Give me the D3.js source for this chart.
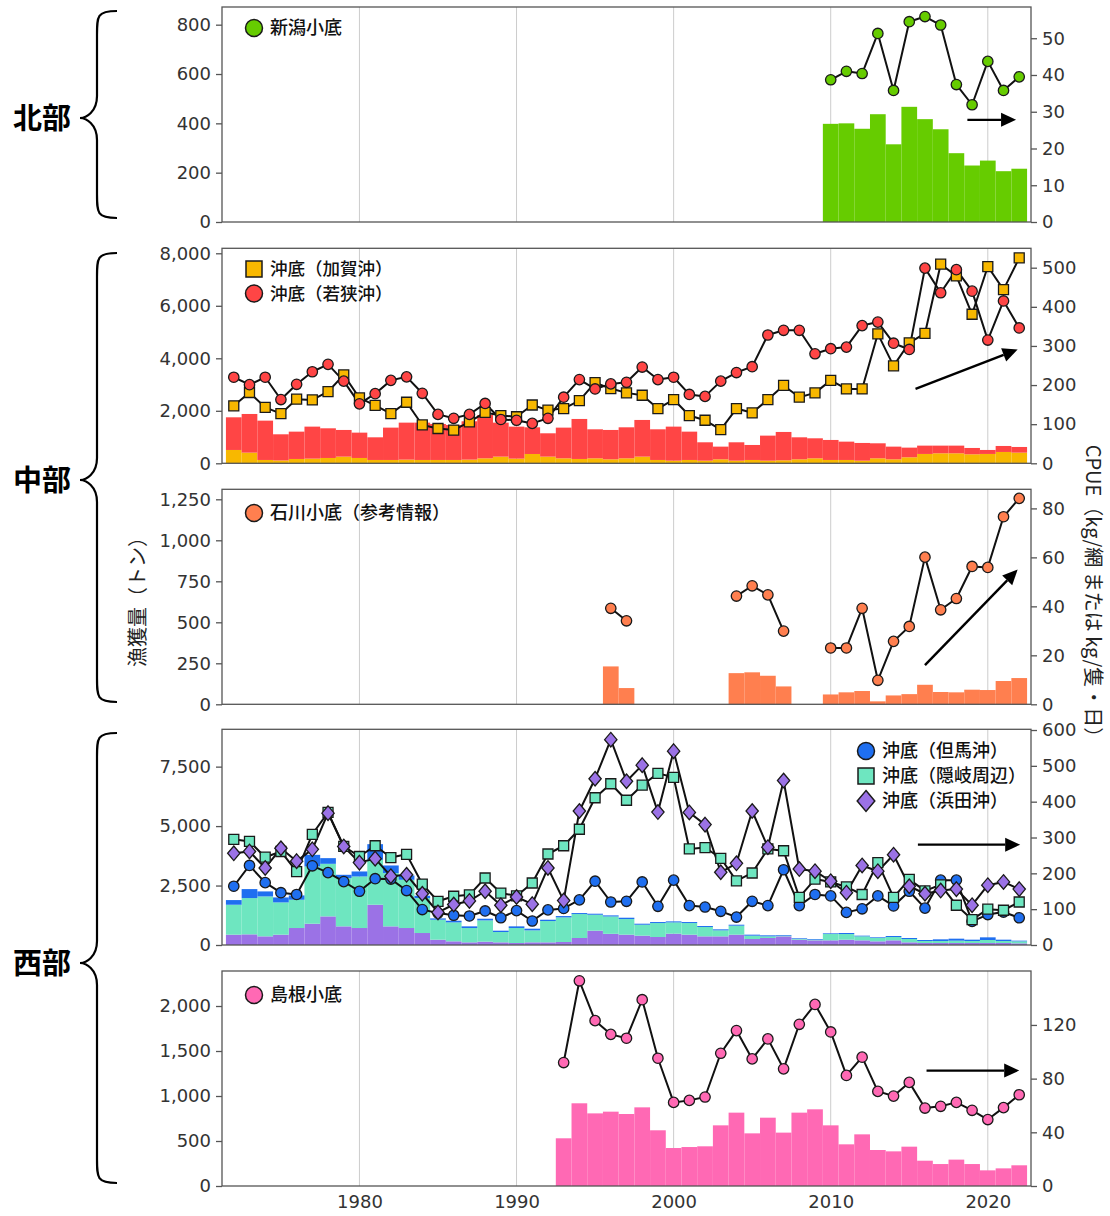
<!DOCTYPE html>
<html lang="ja">
<head>
<meta charset="utf-8">
<script src="https://cdn.jsdelivr.net/npm/d3@7"></script>
<style>
  html, body { margin: 0; padding: 0; background: #fff; }
  svg { display: block; }
</style>
</head>
<body>
<svg id="chart" width="1110" height="1216"></svg>
<script>
// ---- data -------------------------------------------------------------
const yearsAll = [1972,1973,1974,1975,1976,1977,1978,1979,1980,1981,
  1982,1983,1984,1985,1986,1987,1988,1989,1990,1991,
  1992,1993,1994,1995,1996,1997,1998,1999,2000,2001,
  2002,2003,2004,2005,2006,2007,2008,2009,2010,2011,
  2012,2013,2014,2015,2016,2017,2018,2019,2020,2021,2022];
const gridYears = [1980, 1990, 2000, 2010, 2020];

// 北部: 新潟小底
const niigataYears = [2010,2011,2012,2013,2014,2015,2016,2017,2018,2019,2020,2021,2022];
const niigataCatch = [398,400,378,437,315,467,417,376,279,229,249,206,216];
const niigataCpue  = [38.7,41.0,40.4,51.3,35.8,54.5,55.9,53.6,37.4,31.9,43.7,35.8,39.5];

// 中部: 沖底(加賀沖)・沖底(若狭沖), 1972-2022
const kagaCatch = [508,406,127,110,165,178,203,254,203,127,
  127,140,127,127,127,140,190,254,178,355,
  254,190,165,190,152,190,254,127,100,127,
  100,152,100,127,100,115,152,190,127,127,
  100,190,152,229,356,381,381,343,356,432,406];
const wakasaCatch = [1244,1473,1498,995,1041,1219,1130,1016,965,863,
  1232,1409,1422,1371,1333,1460,1651,1295,1219,1016,
  889,1169,1524,1105,1118,1181,1397,1168,1297,1079,
  700,483,700,571,954,1079,838,762,762,698,
  675,572,483,368,317,292,292,241,152,228,216];
const kagaCpue = [147,181,143,127,164,162,183,226,167,148,
  127,156,98,89,85,106,130,122,119,149,
  136,140,160,206,191,180,174,140,163,122,
  110,86,140,129,163,199,169,180,212,190,
  190,331,249,308,332,509,479,381,503,444,525];
const wakasaCpue = [220,201,220,163,202,234,253,210,152,178,
  212,221,179,125,115,125,153,112,110,102,
  115,169,214,190,203,207,246,214,220,176,
  171,210,232,247,328,340,340,280,293,297,
  352,361,307,291,499,436,495,440,315,415,346];

// 中部: 石川小底 (参考情報)
const ishikawaYears = [1996,1997,2004,2005,2006,2007,2010,2011,2012,2013,2014,2015,2016,2017,2018,2019,2020,2021,2022];
const ishikawaCatch = [231,99,190,195,174,109,60,73,81,18,54,62,119,75,73,89,87,142,160];
const ishikawaCpue  = [39.2,34.1,44.2,48.4,44.7,29.9,23.0,23.0,39.2,9.8,25.7,31.8,60.1,38.6,43.2,56.3,55.9,76.6,84.1];

// 西部: 沖底(但馬沖)・沖底(隠岐周辺)・沖底(浜田沖), 1972-2022
const hamadaCatch = [434,448,364,434,714,895,1203,784,714,1693,
  784,714,504,224,154,112,140,112,84,112,
  112,126,294,602,470,434,392,336,476,434,
  364,364,434,252,294,364,224,196,196,224,
  196,154,196,112,84,84,84,84,84,84,70];
const okiCatch = [1259,1525,1679,1357,1189,2407,2211,2028,2168,1889,
  2238,2028,1469,839,797,602,895,434,630,504,
  895,1035,1007,671,730,657,461,587,475,489,
  392,252,378,140,70,28,28,28,266,238,
  168,140,140,140,84,84,98,84,126,84,84];
const tajimaCatch = [196,378,210,210,182,490,238,140,210,658,
  322,182,98,56,70,70,70,56,70,70,
  56,56,42,42,45,56,42,42,42,42,
  42,42,41,42,42,28,28,28,28,42,
  28,28,42,42,42,70,84,56,112,56,28];
const tajimaCpue = [164,222,174,146,141,221,202,177,150,185,
  184,152,99,89,83,81,95,76,96,67,
  98,102,126,178,120,122,176,108,181,110,
  106,94,78,122,110,210,110,141,137,91,
  101,137,109,150,103,181,181,66,85,92,76];
const okiCpue = [295,289,245,261,205,309,370,275,247,277,
  244,253,170,122,136,140,187,145,137,173,
  254,277,323,411,450,404,446,479,468,268,
  272,242,179,201,268,263,133,184,176,162,
  141,230,133,183,151,168,111,71,100,97,120];
const hamadaCpue = [256,261,215,270,234,267,368,275,230,241,
  192,196,143,91,113,123,150,111,134,114,
  215,124,374,464,573,457,502,371,541,370,
  336,203,228,374,273,459,212,206,178,146,
  222,206,252,164,143,152,156,111,167,176,156];

// 西部: 島根小底
const shimaneYears = [1993,1994,1995,1996,1997,1998,1999,2000,2001,2002,
  2003,2004,2005,2006,2007,2008,2009,2010,2011,2012,
  2013,2014,2015,2016,2017,2018,2019,2020,2021,2022];
const shimaneCatch = [530,919,807,826,800,874,619,422,433,441,
  674,815,585,759,593,815,852,674,463,574,
  400,385,437,281,244,293,244,174,196,230];
const shimaneCpue = [92.0,152.9,123.2,113.0,110.1,138.8,95.2,62.3,63.8,66.3,
  98.9,115.8,94.7,109.6,87.3,120.5,135.3,114.8,82.4,96.0,
  70.5,67.0,77.2,58.1,59.4,62.3,56.4,49.5,58.4,68.0];

// trend arrows: [year, CPUE] start and end
const niigataTrend  = [[2018.7, 27.8], [2021.8, 27.8]];
const chubuTrend    = [[2015.4, 190], [2021.9, 291]];
const ishikawaTrend = [[2016.0, 16.0], [2021.9, 55.0]];
const seibuTrend    = [[2015.55, 280], [2022.06, 280]];
const shimaneTrend  = [[2016.1, 86.0], [2022.0, 86.0]];

// ---- style ----------------------------------------------------------------
const FONT_JP = "'Noto Sans CJK JP', 'Noto Sans', sans-serif";
const FONT_NUM = "'DejaVu Sans', 'Noto Sans', sans-serif";
const COL = {
  niigata: '#66cc00',
  kaga: '#f8b800',
  wakasa: '#ff4545',
  ishikawa: '#ff7f4f',
  tajima: '#1f6ff0',
  oki: '#6ee6c0',
  hamada: '#9b72e6',
  shimane: '#ff69b4'
};
const FRAME = '#555';
const TEXT = '#333';

const svg = d3.select('#chart');
svg.append('rect').attr('width', 1110).attr('height', 1216).attr('fill', '#fff');

const x = d3.scaleLinear().domain([1971.25, 2022.75]).range([222, 1031]);
const barLeft = d => x(d - 0.5);
const barWidth = x(1) - x(0);

// marker shapes
function markerPath(type, size) {
  if (type === 'circle') return d3.symbol(d3.symbolCircle, Math.PI * size * size)();
  if (type === 'square') return d3.symbol(d3.symbolSquare, size * size * 4)();
  // diamond, slightly wider than d3's default
  const h = size * 1.3, w = size * 1.1;
  return `M0,${-h}L${w},0L0,${h}L${-w},0Z`;
}

function panel(cfg) {
  const g = svg.append('g');
  const yL = d3.scaleLinear().domain([0, cfg.leftMax]).range([cfg.bottom, cfg.top]);
  const yR = d3.scaleLinear().domain([0, cfg.rightMax]).range([cfg.bottom, cfg.top]);
  const layers = {
    grid: g.append('g'),
    bars: g.append('g'),
    lines: g.append('g'),
    marks: g.append('g'),
    frame: g.append('g'),
    legend: g.append('g')
  };
  layers.grid.selectAll('line').data(gridYears).join('line')
    .attr('x1', d => x(d)).attr('x2', d => x(d))
    .attr('y1', cfg.top).attr('y2', cfg.bottom)
    .attr('stroke', '#cccccc').attr('stroke-width', 1);

  layers.frame.append('rect')
    .attr('x', x.range()[0]).attr('y', cfg.top)
    .attr('width', x.range()[1] - x.range()[0]).attr('height', cfg.bottom - cfg.top)
    .attr('fill', 'none').attr('stroke', FRAME).attr('stroke-width', 1.3);

  const axL = layers.frame.append('g').attr('transform', `translate(${x.range()[0]},0)`)
    .call(d3.axisLeft(yL).tickValues(cfg.leftTicks).tickFormat(d3.format(',')).tickSize(6).tickPadding(5));
  const axR = layers.frame.append('g').attr('transform', `translate(${x.range()[1]},0)`)
    .call(d3.axisRight(yR).tickValues(cfg.rightTicks).tickFormat(d3.format('d')).tickSize(6).tickPadding(5));
  [axL, axR].forEach(a => {
    a.select('.domain').remove();
    a.selectAll('line').attr('stroke', FRAME).attr('stroke-width', 1.3);
    a.selectAll('text').attr('font-family', FONT_NUM).attr('font-size', 18).attr('fill', TEXT);
  });
  return { g, yL, yR, layers, cfg };
}

function drawBars(p, years, values, color) {
  p.layers.bars.append('g').selectAll('rect').data(years.map((y, i) => ({ y, v: values[i] }))).join('rect')
    .attr('x', d => barLeft(d.y)).attr('width', barWidth)
    .attr('y', d => p.yL(d.v)).attr('height', d => p.yL(0) - p.yL(d.v))
    .attr('fill', color);
}

function drawStack(p, years, series) {
  const rows = years.map((y, i) => {
    const r = { year: y };
    series.forEach(s => r[s.key] = s.values[i]);
    return r;
  });
  const stack = d3.stack().keys(series.map(s => s.key))(rows);
  stack.forEach((layer, k) => {
    p.layers.bars.append('g').selectAll('rect').data(layer).join('rect')
      .attr('x', d => barLeft(d.data.year)).attr('width', barWidth)
      .attr('y', d => p.yL(d[1])).attr('height', d => p.yL(d[0]) - p.yL(d[1]))
      .attr('fill', series[k].color);
  });
}

function drawCpue(p, years, values, color, type, size) {
  // break the line wherever a year is missing
  const pts = years.map((y, i) => ({ y, v: values[i] }));
  const segs = [];
  pts.forEach((d, i) => {
    if (i === 0 || d.y - pts[i - 1].y > 1) segs.push([]);
    segs[segs.length - 1].push(d);
  });
  const line = d3.line().x(d => x(d.y)).y(d => p.yR(d.v));
  p.layers.lines.append('g').selectAll('path').data(segs.filter(s => s.length > 1)).join('path')
    .attr('d', line).attr('fill', 'none').attr('stroke', '#111').attr('stroke-width', 2)
    .attr('stroke-linejoin', 'round');
  const sym = markerPath(type, size);
  p.layers.marks.append('g').selectAll('path').data(pts).join('path')
    .attr('d', sym).attr('transform', d => `translate(${x(d.y)},${p.yR(d.v)})`)
    .attr('fill', color).attr('stroke', '#1a1a1a').attr('stroke-width', 1.3);
}

function drawArrow(p, trend) {
  const [a, b] = trend.map(([yr, v]) => [x(yr), p.yR(v)]);
  const ang = Math.atan2(b[1] - a[1], b[0] - a[0]);
  const L = 15, W = 7;
  const base = [b[0] - L * Math.cos(ang), b[1] - L * Math.sin(ang)];
  p.layers.marks.append('line')
    .attr('x1', a[0]).attr('y1', a[1]).attr('x2', base[0]).attr('y2', base[1])
    .attr('stroke', '#000').attr('stroke-width', 2.4);
  const nx = -Math.sin(ang) * W, ny = Math.cos(ang) * W;
  p.layers.marks.append('path')
    .attr('d', `M${b[0]},${b[1]}L${base[0] + nx},${base[1] + ny}L${base[0] - nx},${base[1] - ny}Z`)
    .attr('fill', '#000');
}

// legend: a marker and a label per entry
function legend(p, items, lx, ly, gap, fontSize) {
  items.forEach((it, i) => {
    const cy = ly + i * gap;
    p.layers.legend.append('path').attr('d', markerPath(it.type, it.size))
      .attr('transform', `translate(${lx},${cy})`)
      .attr('fill', it.color).attr('stroke', '#1a1a1a').attr('stroke-width', 1.5);
    p.layers.legend.append('text').attr('x', lx + 16).attr('y', cy)
      .attr('dy', '0.36em').attr('font-family', FONT_JP).attr('font-size', fontSize || 18)
      .attr('font-weight', 500).attr('fill', '#111').text(it.label);
  });
}

// ---- panels ---------------------------------------------------------------
const p1 = panel({ top: 7, bottom: 222, leftMax: 871.7, rightMax: 58.5,
  leftTicks: [0, 200, 400, 600, 800], rightTicks: [0, 10, 20, 30, 40, 50] });
drawBars(p1, niigataYears, niigataCatch, COL.niigata);
drawCpue(p1, niigataYears, niigataCpue, COL.niigata, 'circle', 5.2);
drawArrow(p1, niigataTrend);
legend(p1, [{ type: 'circle', size: 8.5, color: COL.niigata, label: '新潟小底' }], 254, 28, 0);

const p2 = panel({ top: 248.3, bottom: 463.3, leftMax: 8190, rightMax: 549.6,
  leftTicks: [0, 2000, 4000, 6000, 8000], rightTicks: [0, 100, 200, 300, 400, 500] });
drawStack(p2, yearsAll, [
  { key: 'kaga', values: kagaCatch, color: COL.kaga },
  { key: 'wakasa', values: wakasaCatch, color: COL.wakasa }
]);
drawCpue(p2, yearsAll, kagaCpue, COL.kaga, 'square', 5);
drawCpue(p2, yearsAll, wakasaCpue, COL.wakasa, 'circle', 5.2);
drawArrow(p2, chubuTrend);
legend(p2, [
  { type: 'square', size: 8, color: COL.kaga, label: '沖底（加賀沖）' },
  { type: 'circle', size: 8.5, color: COL.wakasa, label: '沖底（若狭沖）' }
], 254, 269, 24.5, 17.5);

const p3 = panel({ top: 489.3, bottom: 704.3, leftMax: 1311, rightMax: 87.8,
  leftTicks: [0, 250, 500, 750, 1000, 1250], rightTicks: [0, 20, 40, 60, 80] });
drawBars(p3, ishikawaYears, ishikawaCatch, COL.ishikawa);
drawCpue(p3, ishikawaYears, ishikawaCpue, COL.ishikawa, 'circle', 5.2);
drawArrow(p3, ishikawaTrend);
legend(p3, [{ type: 'circle', size: 8.5, color: COL.ishikawa, label: '石川小底（参考情報）' }], 254, 513, 0);

const p4 = panel({ top: 729.3, bottom: 945, leftMax: 9070, rightMax: 602,
  leftTicks: [0, 2500, 5000, 7500], rightTicks: [0, 100, 200, 300, 400, 500, 600] });
drawStack(p4, yearsAll, [
  { key: 'hamada', values: hamadaCatch, color: COL.hamada },
  { key: 'oki', values: okiCatch, color: COL.oki },
  { key: 'tajima', values: tajimaCatch, color: COL.tajima }
]);
drawCpue(p4, yearsAll, tajimaCpue, COL.tajima, 'circle', 5.2);
drawCpue(p4, yearsAll, okiCpue, COL.oki, 'square', 5);
drawCpue(p4, yearsAll, hamadaCpue, COL.hamada, 'diamond', 5.6);
drawArrow(p4, seibuTrend);
legend(p4, [
  { type: 'circle', size: 8.5, color: COL.tajima, label: '沖底（但馬沖）' },
  { type: 'square', size: 8, color: COL.oki, label: '沖底（隠岐周辺）' },
  { type: 'diamond', size: 8, color: COL.hamada, label: '沖底（浜田沖）' }
], 866, 751, 25);

const p5 = panel({ top: 971, bottom: 1186, leftMax: 2389, rightMax: 160.2,
  leftTicks: [0, 500, 1000, 1500, 2000], rightTicks: [0, 40, 80, 120] });
drawBars(p5, shimaneYears, shimaneCatch, COL.shimane);
drawCpue(p5, shimaneYears, shimaneCpue, COL.shimane, 'circle', 5.2);
drawArrow(p5, shimaneTrend);
legend(p5, [{ type: 'circle', size: 8.5, color: COL.shimane, label: '島根小底' }], 254, 995, 0);

// shared year axis under the last panel
const xAxis = svg.append('g').attr('transform', 'translate(0,1186)')
  .call(d3.axisBottom(x).tickValues(gridYears).tickFormat(d3.format('d')).tickSize(0).tickPadding(9));
xAxis.select('.domain').remove();
xAxis.selectAll('text').attr('font-family', FONT_NUM).attr('font-size', 18).attr('fill', TEXT);

// axis titles
svg.append('text').attr('transform', 'translate(138,597) rotate(-90)')
  .attr('text-anchor', 'middle').attr('dy', '0.36em')
  .attr('font-family', FONT_JP).attr('font-size', 20).attr('fill', '#222')
  .text('漁獲量（トン）');
svg.append('text').attr('transform', 'translate(1093,596) rotate(90)')
  .attr('text-anchor', 'middle').attr('dy', '0.36em')
  .attr('font-family', FONT_JP).attr('font-size', 20).attr('fill', '#222')
  .text('CPUE（kg/網 または kg/隻・日）');

// region braces and names
function brace(y0, y1, ym) {
  const xt = 117, xs = 97, xp = 80;
  return `M${xt},${y0} C${xs},${y0} ${xs},${y0 + 5} ${xs},${y0 + 24}` +
    ` L${xs},${ym - 22} C${xs},${ym - 6} ${xp + 6},${ym} ${xp},${ym}` +
    ` C${xp + 6},${ym} ${xs},${ym + 6} ${xs},${ym + 22}` +
    ` L${xs},${y1 - 24} C${xs},${y1 - 5} ${xs},${y1} ${xt},${y1}`;
}
const regions = [
  { name: '北部', y0: 11, y1: 218, ym: 118 },
  { name: '中部', y0: 253, y1: 702, ym: 480 },
  { name: '西部', y0: 733, y1: 1183, ym: 963 }
];
regions.forEach(r => {
  svg.append('path').attr('d', brace(r.y0, r.y1, r.ym))
    .attr('fill', 'none').attr('stroke', '#000').attr('stroke-width', 2.2);
  svg.append('text').attr('x', 42).attr('y', r.ym + 1).attr('dy', '0.36em')
    .attr('text-anchor', 'middle').attr('font-family', FONT_JP)
    .attr('font-size', 29).attr('font-weight', 700).attr('fill', '#000').text(r.name);
});
</script>
</body>
</html>
